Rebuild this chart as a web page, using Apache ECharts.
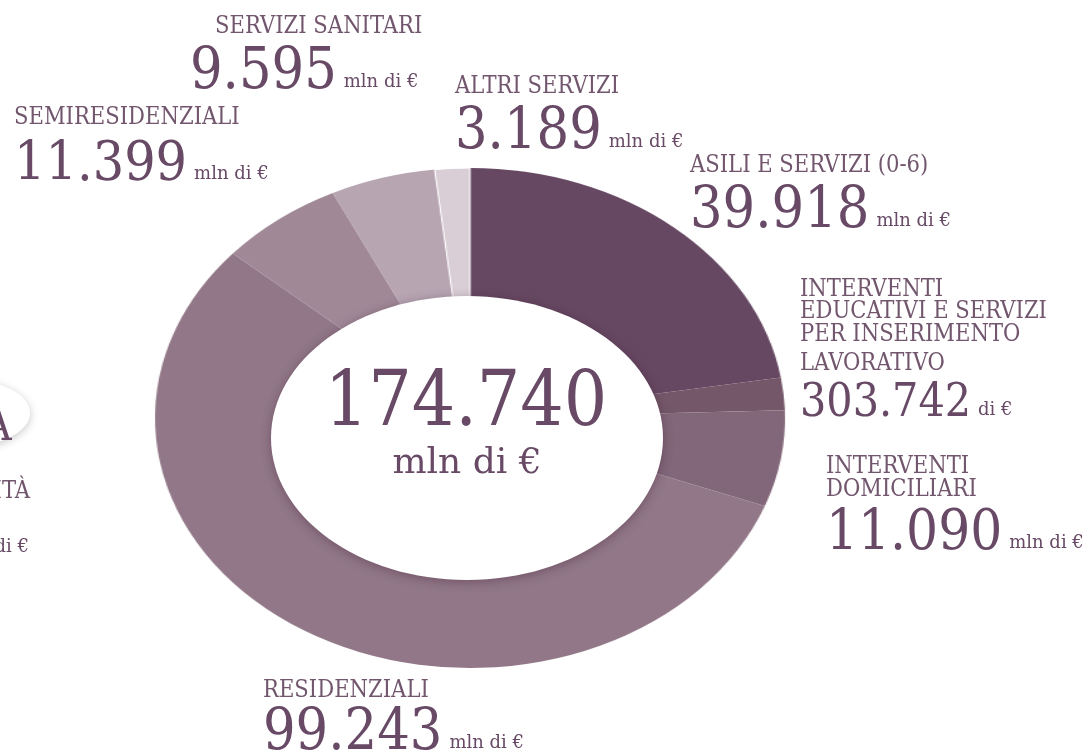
<!DOCTYPE html>
<html>
<head>
<meta charset="utf-8">
<script src="https://cdn.jsdelivr.net/npm/echarts@6/dist/echarts.min.js"></script>
<style>
html,body{margin:0;padding:0;background:#fff;overflow:hidden;}
#wrap{position:relative;width:1090px;height:753px;}
#pie,#txt{position:absolute;left:0;top:0;width:1090px;height:753px;}
#pie{transform:scaleX(1.26);transform-origin:470px 418px;}
</style>
</head>
<body>
<div id="wrap"><div id="pie"></div><div id="txt"></div></div>
<script>
// ---- data ----
const categories = ['ASILI E SERVIZI (0-6)', 'INTERVENTI EDUCATIVI E SERVIZI PER INSERIMENTO LAVORATIVO', 'INTERVENTI DOMICILIARI', 'RESIDENZIALI', 'SEMIRESIDENZIALI', 'SERVIZI SANITARI', 'ALTRI SERVIZI'];
const values = [39.918, 3.742, 11.090, 99.243, 11.399, 9.595, 3.189];
const valueLabels = ['39.918', '303.742', '11.090', '99.243', '11.399', '9.595', '3.189'];
const unitLabels = ['mln di €', 'di €', 'mln di €', 'mln di €', 'mln di €', 'mln di €', 'mln di €'];
const titleLines = [
  ['ASILI E SERVIZI (0-6)'],
  ['INTERVENTI', 'EDUCATIVI E SERVIZI', 'PER INSERIMENTO', 'LAVORATIVO'],
  ['INTERVENTI', 'DOMICILIARI'],
  ['RESIDENZIALI'],
  ['SEMIRESIDENZIALI'],
  ['SERVIZI SANITARI'],
  ['ALTRI SERVIZI']
];
const totalLabel = '174.740';
const totalUnit = 'mln di €';

// ---- styles ----
const colors = ['#674862', '#745769', '#826679', '#917787', '#a08897', '#b7a5b2', '#d9ced5'];
const TXT = '#684a66';
const CAP = '#72566d';
const capFont = "'DejaVu Serif Condensed','DejaVu Serif',serif";
const numFont = "'DejaVu Serif Condensed','DejaVu Serif',serif";
const unitFont = "'DejaVu Serif',serif";
const capSize = 23.5;
const unitSize = 18;

// label layout: x, caps baselines, number baseline, number size
const layout = [
  {x: 690, caps: [172], num: 227, size: 57},
  {x: 800, caps: [296, 318, 341, 370], num: 416, size: 46},
  {x: 826, caps: [473, 496], num: 549, size: 56},
  {x: 263, caps: [697], num: 749, size: 57},
  {x: 14, caps: [124], num: 180, size: 55},
  {x: 190, capsX: 215, caps: [33], num: 88, size: 57},
  {x: 455, caps: [93], num: 148, size: 57}
];

const mctx = document.createElement('canvas').getContext('2d');
function measure(text, size, family) {
  mctx.font = size + 'px ' + family;
  return mctx.measureText(text).width;
}
// text placed by its baseline (converted to a top anchor)
function T(text, x, baseline, size, family, fill, align) {
  return {type: 'text', style: {text: text, x: x, y: baseline - 0.76 * size,
    font: size + 'px ' + family, fill: fill, align: align || 'left', verticalAlign: 'top'}};
}

// ---- pie ----
const pie = echarts.init(document.getElementById('pie'));
pie.setOption({
  animation: false,
  series: [{
    type: 'pie',
    center: [470, 418],
    radius: [0, 250],
    startAngle: 90,
    clockwise: true,
    label: {show: false},
    labelLine: {show: false},
    data: categories.map((c, i) => ({
      name: c, value: values[i],
      itemStyle: {color: colors[i], borderColor: '#ffffff', borderWidth: i === 6 ? 1 : 0}
    }))
  }]
});

// ---- texts ----
const els = [];
// left partial elements (neighbouring chart)
els.push({type: 'ellipse', shape: {cx: -32, cy: 413, rx: 62, ry: 33},
  style: {fill: '#fff', shadowBlur: 8, shadowColor: 'rgba(0,0,0,0.22)', shadowOffsetY: 2}});
els.push(T('A', -17, 440, 44, numFont, TXT));
els.push(T('ITÀ', 30, 498, capSize, capFont, CAP, 'right'));
els.push(T('di €', 29, 552, unitSize, unitFont, TXT, 'right'));

// centre ellipse
els.push({type: 'ellipse', shape: {cx: 467, cy: 438, rx: 196, ry: 142},
  style: {fill: '#fff', shadowBlur: 11, shadowColor: 'rgba(40,0,30,0.3)', shadowOffsetY: 2}});
els.push(T(totalLabel, 466, 425, 76, numFont, TXT, 'center'));
els.push(T(totalUnit, 467, 473, 36, unitFont, TXT, 'center'));

categories.forEach((c, i) => {
  const L = layout[i];
  titleLines[i].forEach((t, j) => {
    els.push(T(t, L.capsX || L.x, L.caps[j], capSize, capFont, CAP));
  });
  els.push(T(valueLabels[i], L.x, L.num, L.size, numFont, TXT));
  const w = measure(valueLabels[i], L.size, numFont);
  els.push(T(unitLabels[i], L.x + w + 7, L.num - 1, unitSize, unitFont, TXT));
});

const txt = echarts.init(document.getElementById('txt'));
txt.setOption({animation: false, graphic: {elements: els}});
</script>
</body>
</html>
